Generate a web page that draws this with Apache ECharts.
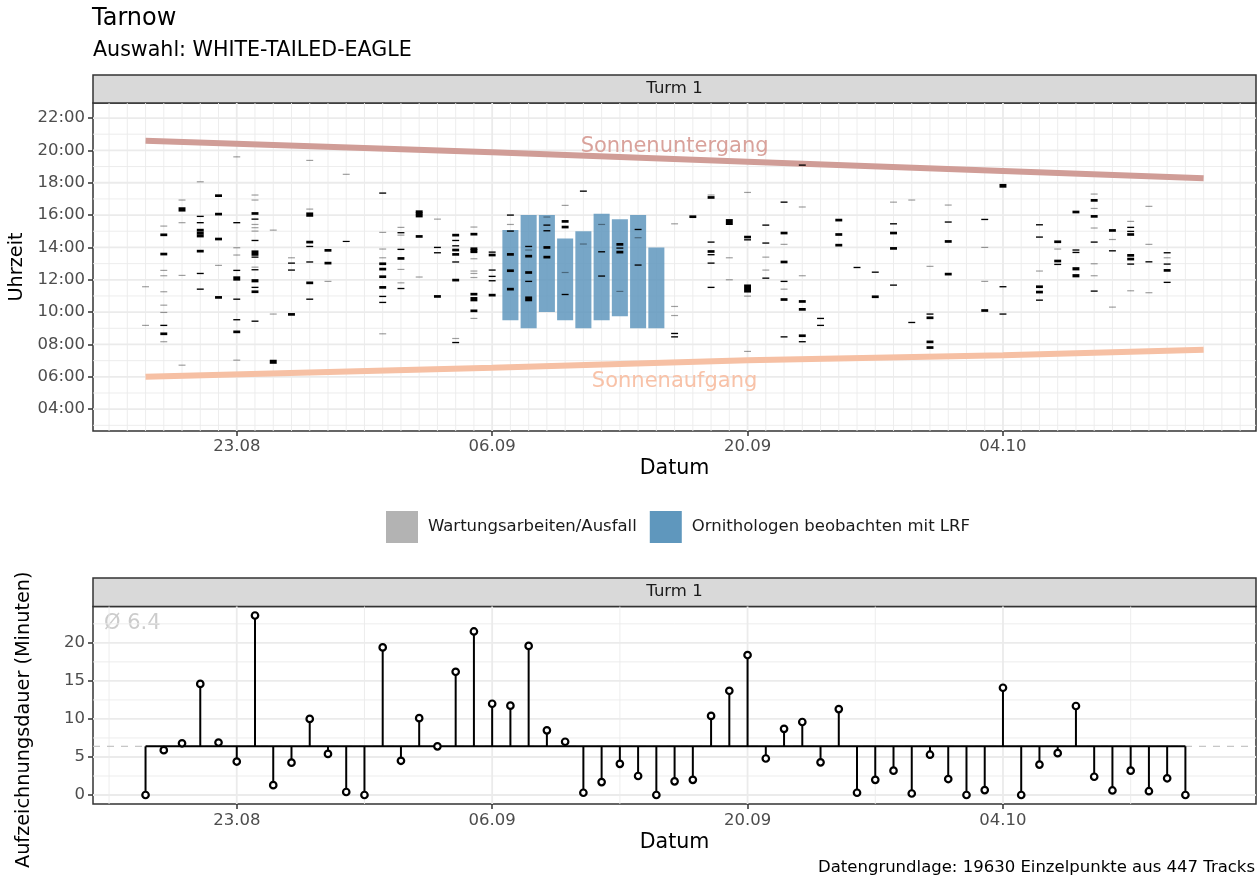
<!DOCTYPE html>
<html><head><meta charset="utf-8">
<script src="https://cdn.jsdelivr.net/npm/echarts@6/dist/echarts.min.js"></script>
<style>html,body{margin:0;padding:0;background:#fff}#c{width:1258px;height:879px}</style>
</head><body><div id="c"></div>
<script>
const YEAR = 2023;
// ---------- data ----------
const days = ['08-18','08-19','08-20','08-21','08-22','08-23','08-24','08-25','08-26','08-27','08-28','08-29','08-30','08-31',
  '09-01','09-02','09-03','09-04','09-05','09-06','09-07','09-08','09-09','09-10','09-11','09-12','09-13','09-14','09-15',
  '09-16','09-17','09-18','09-19','09-20','09-21','09-22','09-23','09-24','09-25','09-26','09-27','09-28','09-29','09-30',
  '10-01','10-02','10-03','10-04','10-05','10-06','10-07','10-08','10-09','10-10','10-11','10-12','10-13','10-14'];
const duration = [0,5.9,6.8,14.6,6.9,4.4,23.6,1.3,4.25,10.0,5.4,0.4,0,19.4,4.5,10.1,6.4,16.2,21.5,
  12.0,11.75,19.6,8.5,7.0,0.3,1.7,4.1,2.5,0,1.8,2.0,10.4,13.7,18.4,4.8,8.7,9.6,4.3,11.3,0.3,2.0,
  3.2,0.2,5.3,2.1,0,0.65,14.1,0,4.0,5.5,11.7,2.4,0.6,3.2,0.5,2.2,0];
const meanDuration = 6.4;
// track dashes per day (start hour, minutes), aligned with days
const trackHours = [
  [11.57,9.18],
  [15.32,14.78,13.59,12.58,12.25,11.26,10.43,9.98,9.18,8.66,8.17],
  [16.93,16.35,15.53,12.27,6.72],
  [18.06,15.92,15.53,15.07,14.9,14.72,13.77,12.39,11.42],
  [17.2,16.06,14.52,12.89,10.91],
  [19.6,15.53,13.98,13.53,12.58,12.08,10.8,9.53,8.78,7.03],
  [17.24,16.93,16.1,15.75,15.42,15.22,15.01,14.43,13.65,13.4,12.78,12.62,11.94,11.53,11.26,9.44],
  [15.07,9.88,6.93],
  [13.36,13.03,12.6,9.86],
  [19.38,16.37,16.03,14.33,14.06,13.1,11.81,10.8],
  [13.82,13.03,11.9],
  [18.52,14.37],
  [],
  [17.36,14.93,13.9,13.36,12.99,12.66,12.19,11.53,10.97,10.6,8.66],
  [15.24,14.91,14.76,13.88,13.32,12.64,11.81,11.46],
  [16.21,16.08,15.94,14.68,12.17],
  [15.75,14.0,13.67,10.97],
  [14.76,14.43,14.1,13.84,13.57,13.1,11.98,8.37,8.12],
  [15.26,14.82,13.92,13.8,13.69,13.3,12.54,12.39,12.14,11.11,10.8,10.08,9.61],
  [13.71,13.53,12.6,12.21,11.94,11.05],
  [16.0,15.42,15.01,13.57,12.56,11.42],
  [14.06,13.84,13.46,12.45,11.9,10.82],
  [15.88,15.38,15.03,14.0,13.4],
  [16.6,15.61,15.26,12.45,11.09],
  [17.48,14.21],
  [15.42,13.73,12.23],
  [14.19,13.96,13.71,11.28],
  [15.11,14.6,12.91],
  [],
  [15.46,10.35,9.79,8.68,8.47],
  [15.9],
  [17.24,17.09,14.33,13.75,13.55,13.03,11.53],
  [15.57,13.36,12.0],
  [17.4,14.64,14.47,11.46,10.99,7.57],
  [15.38,14.27,13.4,12.6,12.1],
  [16.8,14.89,14.19,13.1,11.9,11.42,10.78,8.47],
  [19.09,16.5,12.25,10.66,10.17,8.54,8.17],
  [9.61,9.18],
  [15.69,14.8,14.14],
  [12.76],
  [12.47,10.95],
  [16.8,15.46,14.89,13.94,11.67],
  [16.93,9.36],
  [12.83,9.88,9.65,8.16,7.81],
  [16.62,15.57,14.37,12.35],
  [],
  [15.73,14.0,11.9,10.1],
  [17.81,11.57,9.88],
  [],
  [15.4,14.64,12.54,11.57,11.24,10.74],
  [14.35,13.9,13.16,12.95],
  [16.19,13.84,13.69,12.68,12.25],
  [17.3,16.91,16.41,15.92,15.2,14.33,12.99,12.25,11.3],
  [15.05,14.49,13.79,10.31],
  [15.61,15.24,14.99,14.8,13.51,13.28,12.97,11.32],
  [16.54,14.19,13.11,11.2],
  [13.67,13.36,12.97,12.58,11.84],
  []
];
const trackMinutes = [
  [1,1],
  [1,10,10,1,1,1,1,1,5,10,1],
  [1,16,1,1,1],
  [1,5,5,10,10,12,10,5,5],
  [10,10,10,1,10],
  [1,5,1,1,5,16,5,5,10,1],
  [1,1,10,5,1,1,1,5,20,5,1,5,12,5,10,5],
  [1,1,15],
  [1,5,5,10],
  [1,1,16,10,5,5,10,5],
  [10,10,1],
  [1,4],
  [],
  [5,1,1,1,10,10,10,10,5,5,1],
  [1,5,1,5,10,1,1,5],
  [10,10,10,10,1],
  [1,5,5,10],
  [10,5,5,10,10,5,10,1,5],
  [1,10,10,10,5,1,1,1,1,10,16,10,1],
  [5,10,5,5,5,10],
  [5,1,5,10,10,10],
  [5,1,10,10,5,18],
  [1,5,5,10,10],
  [1,10,10,1,5],
  [5,1],
  [1,5,5],
  [10,5,10,1],
  [5,1,5],
  [],
  [1,1,1,5,5],
  [10],
  [1,10,5,10,5,5,5],
  [22,1,1],
  [1,10,5,30,1,1],
  [5,5,1,1,5],
  [5,10,1,10,5,1,10,5],
  [5,1,1,10,10,10,5],
  [5,5],
  [10,10,10],
  [5],
  [5,10],
  [1,5,10,10,5],
  [1,5],
  [1,5,10,10,10],
  [1,5,10,10],
  [],
  [5,1,1,10],
  [14,5,5],
  [],
  [5,5,1,10,10,5],
  [10,1,10,5],
  [10,5,5,12,12],
  [1,10,1,10,1,5,1,1,5],
  [10,1,5,1],
  [1,5,5,10,10,10,5,1],
  [1,1,5,1],
  [5,1,5,10,5],
  []
];
// ornithologists with LRF
const lrfDays = ['09-07','09-08','09-09','09-10','09-11','09-12','09-13','09-14','09-15'];
const lrfStart = [9.5, 9.0, 10.0, 9.5, 9.0, 9.5, 9.75, 9.0, 9.0];
const lrfEnd = [15.07, 16.0, 16.0, 14.55, 15.0, 16.08, 15.75, 16.0, 14.0];
// sun
const sunDays = ['08-18','09-06','09-20','10-04','10-15'];
const sunsetHour = [20.60, 19.88, 19.30, 18.72, 18.27];
const sunriseHour = [6.00, 6.56, 7.03, 7.34, 7.67];
const sunLabels = ['Sonnenuntergang','Sonnenaufgang'];
const sunLabelDay = ['09-16','09-16'];
const sunLabelHour = [20.22, 5.70];
// ticks
const xTickDays = ['08-23','09-06','09-20','10-04'];
const xTickLabels = ['23.08','06.09','20.09','04.10'];
const hourTicks = [4,6,8,10,12,14,16,18,20,22];
const hourTickLabels = ['04:00','06:00','08:00','10:00','12:00','14:00','16:00','18:00','20:00','22:00'];
const durTicks = [0,5,10,15,20];
const durTickLabels = ['0','5','10','15','20'];

// ---------- helpers ----------
const MS_DAY = 86400000;
const baseDate = new Date(YEAR, 7, 18).getTime();
// day number relative to the first observation day
const dn = md => { const p = md.split('-').map(Number); return Math.round((new Date(YEAR, p[0]-1, p[1]).getTime() - baseDate) / MS_DAY); };
const FONT = 'DejaVu Sans';
const xMin = -2.88, xMax = 60.87;
const xTickPos = xTickDays.map(dn);
const xFmt = v => { const i = xTickPos.indexOf(v); return i >= 0 ? xTickLabels[i] : ''; };

// gridline definitions (vertical: kind 0 minor / 1 major, horizontal: 2 minor / 3 major)
const topGrid = [];
for (let d = -2; d <= 60; d++) topGrid.push([d, 12, xTickPos.includes(d) ? 1 : 0]);
for (let h = 3; h <= 22; h++) topGrid.push([xMin, h, h % 2 === 0 ? 3 : 2]);
const botGrid = [];
['08-16','08-30','09-13','09-27','10-11'].forEach(d => botGrid.push([dn(d), 10, 0]));
xTickPos.forEach(t => botGrid.push([t, 10, 1]));
[0,5,10,15,20].forEach(v => botGrid.push([xMin, v, 3]));
[2.5,7.5,12.5,17.5,22.5].forEach(v => botGrid.push([xMin, v, 2]));

function gridRender(params, api) {
  const k = api.value(2), cs = params.coordSys;
  const p = api.coord([api.value(0), api.value(1)]);
  const major = k === 1 || k === 3;
  const style = { stroke: '#ebebeb', lineWidth: major ? 1.8 : 0.9 };
  if (k < 2) return { type: 'line', shape: { x1: p[0], y1: cs.y, x2: p[0], y2: cs.y + cs.height }, style };
  return { type: 'line', shape: { x1: cs.x, y1: p[1], x2: cs.x + cs.width, y2: p[1] }, style };
}

const trackData = [];
days.forEach((d, i) => trackHours[i].forEach((h, j) => trackData.push([dn(d), h, trackMinutes[i][j]])));
function trackRender(params, api) {
  const x = api.value(0), h = api.value(1), m = api.value(2);
  const a = api.coord([x - 0.19, h + m/120]);
  const b = api.coord([x + 0.19, h - m/120]);
  let top = a[1], height = b[1] - a[1], op = 1;
  if (height < 1.2) { op = Math.max(0.35, height/1.2 + 0.15); const c = (a[1] + b[1]) / 2; height = 1.2; top = c - 0.6; }
  return { type: 'rect', shape: { x: a[0], y: top, width: b[0] - a[0], height }, style: { fill: '#000', opacity: op } };
}
const lrfData = lrfDays.map((d, i) => [dn(d), lrfStart[i], lrfEnd[i]]);
function lrfRender(params, api) {
  const x = api.value(0);
  const a = api.coord([x - 0.44, api.value(2)]);
  const b = api.coord([x + 0.44, api.value(1)]);
  return { type: 'rect', shape: { x: a[0], y: a[1], width: b[0] - a[0], height: b[1] - a[1] }, style: { fill: '#5f97bd', opacity: 0.85 } };
}
const sunLabelData = sunLabels.map((s, i) => [dn(sunLabelDay[i]), sunLabelHour[i], i]);
const sunLabelColors = ['#d9a29b', '#f8c2a8'];
function sunLabelRender(params, api) {
  const p = api.coord([api.value(0), api.value(1)]);
  const i = api.value(2);
  return { type: 'text', x: p[0], y: p[1], style: { text: sunLabels[i], fill: sunLabelColors[i], fontSize: 21, fontFamily: FONT, align: 'center', verticalAlign: 'middle' } };
}
const lolliData = days.map((d, i) => [dn(d), duration[i]]);
function stemRender(params, api) {
  const x = api.value(0);
  const a = api.coord([x, meanDuration]), b = api.coord([x, api.value(1)]);
  return { type: 'line', shape: { x1: a[0], y1: a[1], x2: b[0], y2: b[1] }, style: { stroke: '#000', lineWidth: 2 } };
}
function dashRender(params, api) {
  const cs = params.coordSys;
  const y = api.coord([api.value(0), api.value(1)])[1];
  return { type: 'line', shape: { x1: cs.x, y1: y, x2: cs.x + cs.width, y2: y }, style: { stroke: '#c4c4c4', lineWidth: 1.2, lineDash: [7, 7] } };
}

const tickStyle = { show: true, length: 5, lineStyle: { color: '#333', width: 1.5 } };
const labelStyle = { color: '#4d4d4d', fontSize: 16.5, fontFamily: FONT };
const nameStyle = { color: '#000', fontSize: 20.6, fontFamily: FONT };
const yNameStyle = { color: '#000', fontSize: 19.3, fontFamily: FONT };
const noLine = { show: false, onZero: false };

const option = {
  animation: false,
  backgroundColor: '#fff',
  textStyle: { fontFamily: FONT },
  grid: [
    { left: 93, top: 103, width: 1163, height: 328, show: true, containLabel: false, outerBoundsMode: 'none', backgroundColor: '#fff', borderColor: '#333', borderWidth: 1.5 },
    { left: 93, top: 606.5, width: 1163, height: 197.5, show: true, containLabel: false, outerBoundsMode: 'none', backgroundColor: '#fff', borderColor: '#333', borderWidth: 1.5 }
  ],
  xAxis: [
    { type: 'value', gridIndex: 0, min: xMin, max: xMax, axisLine: noLine, splitLine: { show: false },
      axisTick: Object.assign({ customValues: xTickPos }, tickStyle),
      axisLabel: Object.assign({ customValues: xTickPos, formatter: xFmt, margin: 7 }, labelStyle),
      name: 'Datum', nameLocation: 'middle', nameGap: 27, nameTextStyle: nameStyle },
    { type: 'value', gridIndex: 1, min: xMin, max: xMax, axisLine: noLine, splitLine: { show: false },
      axisTick: Object.assign({ customValues: xTickPos }, tickStyle),
      axisLabel: Object.assign({ customValues: xTickPos, formatter: xFmt, margin: 8 }, labelStyle),
      name: 'Datum', nameLocation: 'middle', nameGap: 28, nameTextStyle: nameStyle }
  ],
  yAxis: [
    { type: 'value', gridIndex: 0, min: 2.65, max: 22.93, axisLine: noLine, splitLine: { show: false },
      axisTick: Object.assign({ customValues: hourTicks }, tickStyle),
      axisLabel: Object.assign({ customValues: hourTicks, margin: 8, formatter: v => hourTickLabels[hourTicks.indexOf(v)] }, labelStyle),
      name: 'Uhrzeit', nameLocation: 'middle', nameGap: 60, nameRotate: 90, nameTextStyle: yNameStyle },
    { type: 'value', gridIndex: 1, min: -1.18, max: 24.78, axisLine: noLine, splitLine: { show: false },
      axisTick: Object.assign({ customValues: durTicks }, tickStyle),
      axisLabel: Object.assign({ customValues: durTicks, margin: 8, formatter: v => durTickLabels[durTicks.indexOf(v)] }, labelStyle),
      name: 'Aufzeichnungsdauer (Minuten)', nameLocation: 'middle', nameGap: 60, nameRotate: 90,
      nameTextStyle: Object.assign({ padding: [0, 29, 0, 0] }, yNameStyle) }
  ],
  legend: {
    left: 386, top: 511, padding: 0, itemWidth: 32, itemHeight: 32, itemGap: 13, icon: 'rect', selectedMode: false,
    textStyle: { fontSize: 16.5, color: '#1a1a1a', fontFamily: FONT, padding: [0, 0, 0, 5] },
    data: [
      { name: 'Wartungsarbeiten/Ausfall', itemStyle: { color: '#b3b3b3' } },
      { name: 'Ornithologen beobachten mit LRF', itemStyle: { color: '#5f97bd' } }
    ]
  },
  graphic: [
    { type: 'text', left: 92, top: 7, style: { text: 'Tarnow', fontSize: 24, fontFamily: FONT, fill: '#000' } },
    { type: 'text', left: 93, top: 40, style: { text: 'Auswahl: WHITE-TAILED-EAGLE', fontSize: 20.6, fontFamily: FONT, fill: '#000' } },
    { type: 'rect', shape: { x: 93, y: 75, width: 1163, height: 28 }, style: { fill: '#d9d9d9', stroke: '#333', lineWidth: 1.5 } },
    { type: 'text', x: 674.5, y: 89, style: { text: 'Turm 1', fontSize: 16.5, fontFamily: FONT, fill: '#1a1a1a', align: 'center', verticalAlign: 'middle' } },
    { type: 'rect', shape: { x: 93, y: 578, width: 1163, height: 28.5 }, style: { fill: '#d9d9d9', stroke: '#333', lineWidth: 1.5 } },
    { type: 'text', x: 674.5, y: 592, style: { text: 'Turm 1', fontSize: 16.5, fontFamily: FONT, fill: '#1a1a1a', align: 'center', verticalAlign: 'middle' } },
    { type: 'text', x: 104, y: 624, style: { text: 'Ø 6.4', fontSize: 21, fontFamily: FONT, fill: '#cccccc', verticalAlign: 'middle' } },
    { type: 'text', x: 1255, y: 868, style: { text: 'Datengrundlage: 19630 Einzelpunkte aus 447 Tracks', fontSize: 16.5, fontFamily: FONT, fill: '#000', align: 'right', verticalAlign: 'middle' } }
  ],
  series: [
    { type: 'custom', name: 'grid-top', xAxisIndex: 0, yAxisIndex: 0, silent: true, z: 0, renderItem: gridRender, data: topGrid },
    { type: 'custom', name: 'grid-bottom', xAxisIndex: 1, yAxisIndex: 1, silent: true, z: 0, renderItem: gridRender, data: botGrid },
    { type: 'custom', name: 'Wartungsarbeiten/Ausfall', xAxisIndex: 0, yAxisIndex: 0, itemStyle: { color: '#b3b3b3' }, renderItem: lrfRender, data: [] },
    { type: 'line', name: 'sunset', xAxisIndex: 0, yAxisIndex: 0, z: 1, showSymbol: false, symbol: 'none', silent: true,
      lineStyle: { color: '#d09d97', width: 6 }, data: sunDays.map((d, i) => [dn(d), sunsetHour[i]]) },
    { type: 'line', name: 'sunrise', xAxisIndex: 0, yAxisIndex: 0, z: 1, showSymbol: false, symbol: 'none', silent: true,
      lineStyle: { color: '#f6c0a4', width: 6 }, data: sunDays.map((d, i) => [dn(d), sunriseHour[i]]) },
    { type: 'custom', name: 'sunlabels', xAxisIndex: 0, yAxisIndex: 0, z: 2, silent: true, renderItem: sunLabelRender, data: sunLabelData },
    { type: 'custom', name: 'Ornithologen beobachten mit LRF', xAxisIndex: 0, yAxisIndex: 0, z: 2, itemStyle: { color: '#5f97bd' }, renderItem: lrfRender, data: lrfData },
    { type: 'custom', name: 'tracks', xAxisIndex: 0, yAxisIndex: 0, z: 3, silent: true, renderItem: trackRender, data: trackData },
    { type: 'custom', name: 'meandash', xAxisIndex: 1, yAxisIndex: 1, z: 1, silent: true, renderItem: dashRender, data: [[dn(days[0]), meanDuration]] },
    { type: 'line', name: 'mean', xAxisIndex: 1, yAxisIndex: 1, z: 2, showSymbol: false, symbol: 'none', silent: true,
      lineStyle: { color: '#000', width: 2 }, data: [[dn(days[0]), meanDuration], [dn(days[days.length-1]), meanDuration]] },
    { type: 'custom', name: 'stems', xAxisIndex: 1, yAxisIndex: 1, z: 2, silent: true, renderItem: stemRender, data: lolliData },
    { type: 'scatter', name: 'points', xAxisIndex: 1, yAxisIndex: 1, z: 3, silent: true, symbol: 'circle', symbolSize: 6.5,
      itemStyle: { color: '#fff', borderColor: '#000', borderWidth: 2.2, opacity: 1 }, data: lolliData }
  ]
};
const chart = echarts.init(document.getElementById('c'));
chart.setOption(option);
</script></body></html>
